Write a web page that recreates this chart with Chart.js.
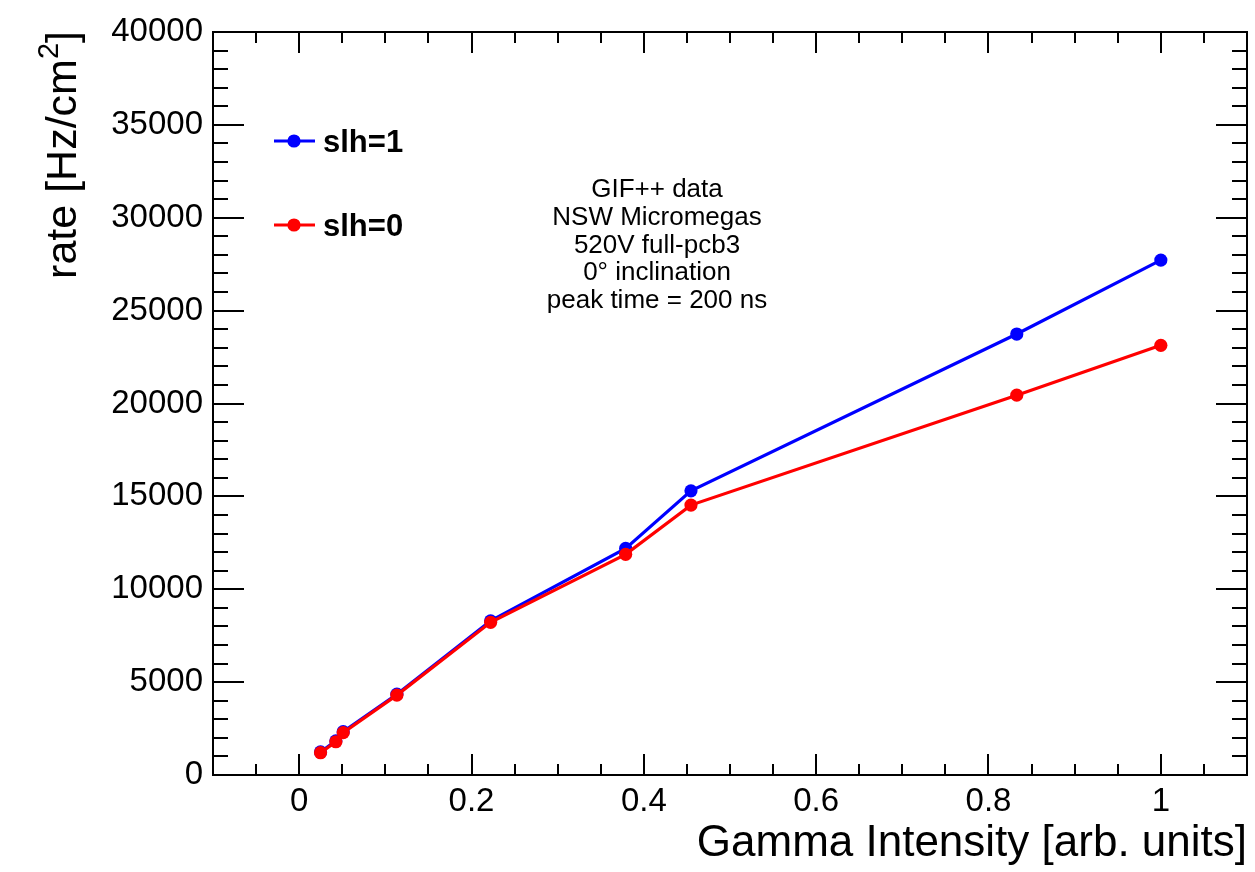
<!DOCTYPE html>
<html>
<head>
<meta charset="utf-8">
<title>GIF++ rate vs gamma intensity</title>
<style>
  html, body { margin: 0; padding: 0; background: #fff; }
  #wrap { width: 1255px; height: 872px; }
</style>
</head>
<body>
<div id="wrap"><canvas id="rate"></canvas></div>

<script src="https://cdn.jsdelivr.net/npm/chart.js"></script>
<script>
// values
const intensity = [0.0248, 0.0426, 0.0511, 0.1134, 0.2222, 0.3789, 0.4547, 0.8328, 1.0];
const rateSlh1 = [1240, 1840, 2330, 4350, 8300, 12200, 15300, 23740, 27720];
const rateSlh0 = [1200, 1790, 2280, 4300, 8220, 11880, 14530, 20450, 23130];

const xTicks = [0, 0.2, 0.4, 0.6, 0.8, 1];
const yTicks = [0, 5000, 10000, 15000, 20000, 25000, 30000, 35000, 40000];

const infoLines = ['GIF++ data', 'NSW Micromegas', '520V full-pcb3', '0\u00b0 inclination', 'peak time = 200 ns'];

const FONT = '"Liberation Sans", Arial, Helvetica, sans-serif';

const toPoints = ys => intensity.map((v, i) => ({ x: v, y: ys[i] }));

// ROOT style frame: box plus inward ticks on all four sides
const rootFrame = {
  id: 'rootFrame',
  afterDraw(chart) {
    const { ctx, chartArea: a, scales: { x, y } } = chart;
    ctx.save();
    ctx.strokeStyle = '#000';
    ctx.lineWidth = 2;
    ctx.strokeRect(a.left, a.top, a.right - a.left, a.bottom - a.top);

    ctx.beginPath();
    for (let i = -1; i <= 21; i++) {            // every 0.05
      const px = Math.round(x.getPixelForValue(i * 0.05));
      const len = i % 4 === 0 ? 21 : 11;
      ctx.moveTo(px, a.bottom); ctx.lineTo(px, a.bottom - len);
      ctx.moveTo(px, a.top); ctx.lineTo(px, a.top + len);
    }
    for (let i = 1; i < 40; i++) {              // every 1000
      const py = Math.round(y.getPixelForValue(i * 1000));
      const len = i % 5 === 0 ? 31 : 15;
      ctx.moveTo(a.left, py); ctx.lineTo(a.left + len, py);
      ctx.moveTo(a.right, py); ctx.lineTo(a.right - len, py);
    }
    ctx.stroke();

    // y axis title with a real superscript
    ctx.fillStyle = '#000';
    ctx.translate(76, a.top - 1);
    ctx.rotate(-Math.PI / 2);
    ctx.textBaseline = 'alphabetic';
    ctx.textAlign = 'left';
    const big = '43px ' + FONT, small = '29px ' + FONT;
    ctx.font = big;
    const w1 = ctx.measureText('rate [Hz/cm').width;
    const w3 = ctx.measureText(']').width;
    ctx.font = small;
    const w2 = ctx.measureText('2').width;
    let tx = -(w1 + w2 + w3);
    ctx.font = big;
    ctx.fillText('rate [Hz/cm', tx, 0);
    tx += w1;
    ctx.font = small;
    ctx.fillText('2', tx, -18);
    tx += w2;
    ctx.font = big;
    ctx.fillText(']', tx, 0);
    ctx.restore();

    // info text block
    ctx.save();
    ctx.fillStyle = '#000';
    ctx.font = '26px ' + FONT;
    ctx.textAlign = 'center';
    ctx.textBaseline = 'alphabetic';
    infoLines.forEach((t, i) => ctx.fillText(t, 657, 197 + i * 27.8));
    ctx.restore();

    // legend
    ctx.save();
    const rows = [141, 225];
    chart.data.datasets.forEach((ds, i) => {
      const ly = rows[i];
      ctx.strokeStyle = ds.borderColor;
      ctx.lineWidth = 3.2;
      ctx.beginPath();
      ctx.moveTo(274, ly); ctx.lineTo(315, ly);
      ctx.stroke();
      ctx.fillStyle = ds.borderColor;
      ctx.beginPath();
      ctx.arc(294, ly, 6.6, 0, Math.PI * 2);
      ctx.fill();
      ctx.fillStyle = '#000';
      ctx.font = 'bold 31px ' + FONT;
      ctx.textAlign = 'left';
      ctx.textBaseline = 'middle';
      ctx.fillText(ds.label, 323, ly + 2);
    });
    ctx.restore();
  }
};

new Chart(document.getElementById('rate'), {
  type: 'scatter',
  data: {
    datasets: [
      {
        label: 'slh=1',
        data: toPoints(rateSlh1),
        showLine: true,
        borderColor: '#0000ff',
        backgroundColor: '#0000ff',
        borderWidth: 3.2,
        pointRadius: 6.6,
        pointBorderWidth: 0,
        order: 1
      },
      {
        label: 'slh=0',
        data: toPoints(rateSlh0),
        showLine: true,
        borderColor: '#ff0000',
        backgroundColor: '#ff0000',
        borderWidth: 3.2,
        pointRadius: 6.6,
        pointBorderWidth: 0,
        order: 0
      }
    ]
  },
  options: {
    responsive: true,
    maintainAspectRatio: false,
    animation: false,
    layout: { padding: { top: 32, right: 8, left: 0, bottom: 0 } },
    plugins: { legend: { display: false }, tooltip: { enabled: false } },
    scales: {
      x: {
        type: 'linear',
        min: -0.1,
        max: 1.1,
        grid: { display: false, drawTicks: false },
        border: { display: false },
        afterBuildTicks: s => { s.ticks = xTicks.map(v => ({ value: v })); },
        afterFit: s => { s.height = 97; },
        ticks: {
          color: '#000',
          font: { family: FONT, size: 33 },
          padding: 7,
          maxRotation: 0,
          autoSkip: false,
          callback: v => String(v)
        },
        title: {
          display: true,
          text: 'Gamma Intensity [arb. units]',
          align: 'end',
          color: '#000',
          font: { family: FONT, size: 44 },
          padding: { top: 0, bottom: 2 }
        }
      },
      y: {
        type: 'linear',
        min: 0,
        max: 40000,
        grid: { display: false, drawTicks: false },
        border: { display: false },
        afterBuildTicks: s => { s.ticks = yTicks.map(v => ({ value: v })); },
        afterFit: s => { s.width = 213; },
        ticks: {
          color: '#000',
          font: { family: FONT, size: 33 },
          padding: 10,
          autoSkip: false,
          callback: v => String(v)
        }
      }
    }
  },
  plugins: [rootFrame]
});
</script>
</body>
</html>
